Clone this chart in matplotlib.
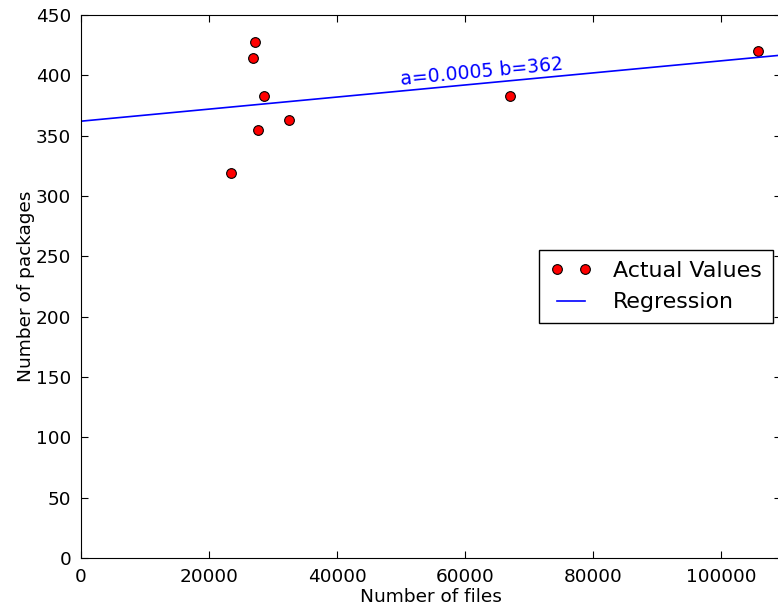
import numpy as np
import matplotlib
matplotlib.use("Agg")
import matplotlib.pyplot as plt

# files vs packages per release
files = [23437, 26828, 27234, 27703, 28547, 32453, 67031, 105828]
packages = [319, 414, 428, 355, 383, 363, 383, 420]

# fitted line y = a*x + b
a = 0.0005
b = 362
x_max = 109400

plt.rcParams['font.size'] = 13.3
plt.rcParams['xtick.direction'] = 'in'
plt.rcParams['ytick.direction'] = 'in'
plt.rcParams['xtick.top'] = True
plt.rcParams['ytick.right'] = True
plt.rcParams['xtick.major.size'] = 5
plt.rcParams['ytick.major.size'] = 5
plt.rcParams['xtick.major.pad'] = 7
plt.rcParams['ytick.major.pad'] = 7

fig = plt.figure(figsize=(7.78, 6.07), dpi=100)
ax = fig.add_axes([81 / 778, 49 / 607, 700 / 778, 543 / 607])

ax.plot(files, packages, 'o', color='red', markeredgecolor='black',
        markeredgewidth=0.8, markersize=7, label='Actual Values')
xs = np.array([0, x_max])
ax.plot(xs, a * xs + b, color='blue', lw=1.2, label='Regression')

ax.text(50000, a * 50000 + b + 5, 'a=%.4f b=%d' % (a, b), color='blue',
        fontsize=13.6, rotation=np.degrees(np.arctan(a)),
        transform_rotates_text=True, rotation_mode='anchor',
        ha='left', va='baseline')

ax.set_xlim(0, x_max)
ax.set_ylim(0, 450)
ax.set_xticks([0, 20000, 40000, 60000, 80000, 100000])
ax.set_xlabel('Number of files', labelpad=2)
ax.set_ylabel('Number of packages', labelpad=1)

leg = ax.legend(loc='upper left', bbox_to_anchor=(0.654, 0.567),
                borderaxespad=0, numpoints=2, fontsize='large',
                fancybox=False, framealpha=1, edgecolor='black',
                handlelength=1.9, handletextpad=0.95, borderpad=0.5,
                labelspacing=0.5)
leg.get_frame().set_linewidth(1.0)

fig.savefig('out.png', dpi=100)
